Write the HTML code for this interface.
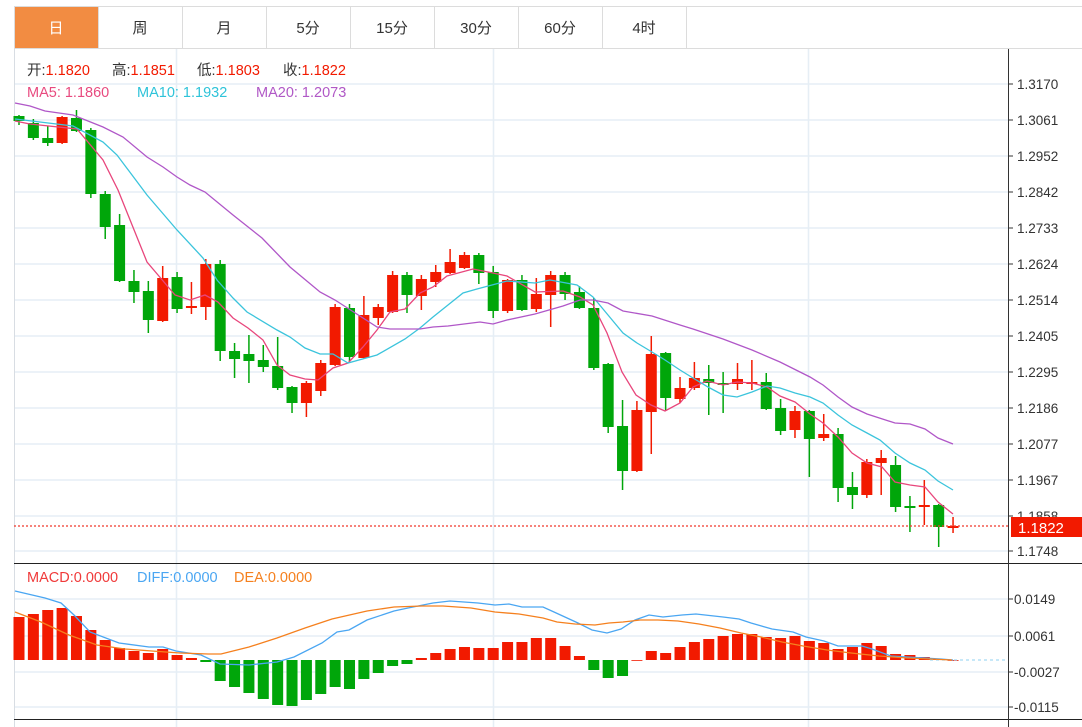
<!DOCTYPE html>
<html><head><meta charset="utf-8">
<style>
html,body{margin:0;padding:0;background:#fff;}
body{width:1082px;height:727px;overflow:hidden;position:relative;font-family:"Liberation Sans","Noto Sans CJK SC",sans-serif;}
svg{position:absolute;left:0;top:0;}
svg text{font-family:"Liberation Sans","Noto Sans CJK SC",sans-serif;}
</style></head>
<body>
<svg id="s" width="1082" height="727" viewBox="0 0 1082 727" xmlns="http://www.w3.org/2000/svg">
<rect x="14.5" y="6.5" width="1080" height="42" fill="#fff" stroke="#dcdcdc"/>
<rect x="15" y="7" width="83" height="41" fill="#f28c42"/>
<g stroke="#dcdcdc"><line x1="98.5" y1="7" x2="98.5" y2="48"/><line x1="182.5" y1="7" x2="182.5" y2="48"/><line x1="266.5" y1="7" x2="266.5" y2="48"/><line x1="350.5" y1="7" x2="350.5" y2="48"/><line x1="434.5" y1="7" x2="434.5" y2="48"/><line x1="518.5" y1="7" x2="518.5" y2="48"/><line x1="602.5" y1="7" x2="602.5" y2="48"/><line x1="686.5" y1="7" x2="686.5" y2="48"/></g>
<g font-size="15" text-anchor="middle" fill="#333">
<text x="56" y="33" fill="#fff">日</text><text x="140" y="33">周</text><text x="224" y="33">月</text><text x="308" y="33">5分</text><text x="392" y="33">15分</text><text x="476" y="33">30分</text><text x="560" y="33">60分</text><text x="644" y="33">4时</text>
</g>
<g id="grid" stroke="#e6eef5" stroke-width="1.5"></g>
<line x1="176.5" y1="49" x2="176.5" y2="727" stroke="#e6eef5" stroke-width="1.5"/>
<line x1="493.5" y1="49" x2="493.5" y2="727" stroke="#e6eef5" stroke-width="1.5"/>
<line x1="808.5" y1="49" x2="808.5" y2="727" stroke="#e6eef5" stroke-width="1.5"/>
<line x1="14.5" y1="49" x2="14.5" y2="727" stroke="#d8dde3"/>
<g id="candles"></g>
<g id="ma" fill="none" stroke-width="1.3"></g>
<g id="macd"></g>
<line x1="14" y1="526" x2="1008" y2="526" stroke="#f0382b" stroke-dasharray="2,2" stroke-width="1.2"/>
<line x1="14" y1="563.5" x2="1082" y2="563.5" stroke="#222"/>
<line x1="14" y1="719.5" x2="1082" y2="719.5" stroke="#222"/>
<line x1="1008.5" y1="49" x2="1008.5" y2="727" stroke="#333"/>
<g id="ax" font-size="13.5" fill="#333"></g>
<rect x="1011" y="517" width="71" height="20" fill="#f21a00"/>
<text x="1018" y="533" font-size="15" fill="#fff">1.1822</text>
<g font-size="14.5">
<text x="27" y="75" fill="#333">开:<tspan fill="#f21a00">1.1820</tspan></text>
<text x="112" y="75" fill="#333">高:<tspan fill="#f21a00">1.1851</tspan></text>
<text x="197" y="75" fill="#333">低:<tspan fill="#f21a00">1.1803</tspan></text>
<text x="283" y="75" fill="#333">收:<tspan fill="#f21a00">1.1822</tspan></text>
<text x="27" y="97" fill="#e84a7f">MA5: 1.1860</text>
<text x="137" y="97" fill="#2ec3d9">MA10: 1.1932</text>
<text x="256" y="97" fill="#b058c6">MA20: 1.2073</text>
<text x="27" y="582" fill="#f03a3a">MACD:0.0000</text>
<text x="137" y="582" fill="#4aa6f2">DIFF:0.0000</text>
<text x="234" y="582" fill="#f5801e">DEA:0.0000</text>
</g>
</svg>
<script>
var NS="http://www.w3.org/2000/svg";
function el(p,t,a){var e=document.createElementNS(NS,t);for(var k in a)e.setAttribute(k,a[k]);document.getElementById(p).appendChild(e);return e;}
var gy=[84,120,156,192,228,264,300,336,372,408,444,480,516,551];
gy.forEach(function(y){el("grid","line",{x1:14,y1:y,x2:1008,y2:y});});
[599,636,672,707].forEach(function(y){el("grid","line",{x1:14,y1:y,x2:1008,y2:y});});
var labs=["1.3170","1.3061","1.2952","1.2842","1.2733","1.2624","1.2514","1.2405","1.2295","1.2186","1.2077","1.1967","1.1858","1.1748"];
gy.forEach(function(y,i){el("ax","line",{x1:1008,y1:y,x2:1013,y2:y,stroke:"#333"});var t=el("ax","text",{x:1017,y:y+5});t.textContent=labs[i];});
var ml=[[599,"0.0149"],[636,"0.0061"],[672,"-0.0027"],[707,"-0.0115"]];
ml.forEach(function(m){el("ax","line",{x1:1008,y1:m[0],x2:1013,y2:m[0],stroke:"#333"});var t=el("ax","text",{x:1014,y:m[0]+5});t.textContent=m[1];});
var C=[[121,116,115,125,'g'],[123,138,119,140,'g'],[138,143,126,146,'g'],[143,117,116,144,'r'],[118,131,110,132,'g'],[130,194,128,198,'g'],[194,227,191,239,'g'],[225,281,214,282,'g'],[281,292,270,303,'g'],[291,320,281,333,'g'],
[321,278,266,322,'r'],[277,309,272,313,'g'],[308,306,282,314,'r'],[307,264,259,320,'r'],[264,351,260,361,'g'],[351,359,343,378,'g'],[354,361,335,383,'g'],[360,367,345,372,'g'],[366,388,337,390,'g'],[387,403,386,413,'g'],
[403,383,381,417,'r'],[391,363,360,396,'r'],[365,307,304,366,'r'],[308,357,304,361,'g'],[358,315,296,359,'r'],[318,307,304,325,'r'],[312,275,271,313,'r'],[275,295,272,313,'g'],[296,279,275,310,'r'],[282,272,265,287,'r'],
[273,262,249,274,'r'],[268,255,252,269,'r'],[255,273,253,284,'g'],[272,311,266,318,'g'],[311,280,279,313,'r'],[280,310,275,311,'g'],[309,294,278,312,'r'],[295,275,271,327,'r'],[275,294,272,300,'g'],[292,308,286,309,'g'],
[308,368,298,370,'g'],[364,427,363,433,'g'],[426,471,400,490,'g'],[471,410,401,472,'r'],[412,354,336,454,'r'],[353,398,352,411,'g'],[399,388,377,403,'r'],[388,378,362,390,'r'],[379,383,365,415,'g'],[383,385,372,413,'g'],
[384,379,363,390,'r'],[384,382,360,390,'r'],[382,409,373,410,'g'],[408,431,399,435,'g'],[430,411,406,438,'r'],[411,439,410,477,'g'],[438,434,414,441,'r'],[434,488,428,502,'g'],[487,495,472,509,'g'],[495,462,459,498,'r'],
[463,458,450,495,'r'],[465,507,456,512,'g'],[506,507,496,532,'g'],[507,505,480,525,'r'],[505,527,504,547,'g'],[528,526,517,533,'r']];
function cx(i){return 19+i*14.37;}
C.forEach(function(c,i){var x=cx(i),col=c[4]=='r'?'#f21a00':'#00a60a';
el("candles","line",{x1:x,y1:c[2],x2:x,y2:c[3],stroke:col,"stroke-width":1.5});
var t=Math.min(c[0],c[1]),h=Math.max(Math.abs(c[0]-c[1]),2);
el("candles","rect",{x:x-5.5,y:t,width:11,height:h,fill:col});});
function pl(pts,col){el("ma","polyline",{points:pts.map(function(p){return p.join(",");}).join(" "),stroke:col});}
pl([[15,121],[30,124],[77,129],[103,160],[118,190],[147,262],[175,295],[190,300],[205,295],[218,302],[233,318],[248,328],[263,340],[277,365],[290,375],[305,379],[318,380],[333,368],[348,363],[363,347],[377,330],[390,312],[405,309],[420,293],[433,287],[447,276],[473,269],[493,273],[507,276],[535,292],[563,291],[580,297],[593,305],[607,333],[622,372],[636,395],[651,405],[665,411],[680,403],[693,387],[707,381],[723,385],[737,382],[752,383],[767,387],[780,396],[795,402],[810,414],[823,423],[838,437],[852,453],[867,463],[882,467],[895,482],[910,485],[925,487],[938,502],[953,514]],"#e8467c");
pl([[15,119],[73,126],[103,142],[117,155],[147,195],[177,230],[203,258],[217,280],[233,298],[247,312],[277,330],[290,337],[305,348],[320,354],[333,354],[348,363],[377,355],[405,339],[420,328],[433,317],[448,305],[463,293],[477,289],[507,281],[535,283],[550,280],[577,285],[593,297],[608,315],[623,333],[637,343],[652,352],[665,360],[680,370],[693,378],[708,387],[723,395],[737,397],[752,392],[767,386],[780,388],[795,393],[810,397],[823,403],[838,415],[852,425],[867,433],[880,440],[895,453],[910,463],[925,470],[938,481],[953,490]],"#3bc4dc");
pl([[15,103],[30,106],[45,111],[73,115],[103,127],[123,137],[147,157],[163,167],[177,177],[190,185],[205,192],[233,215],[262,238],[290,267],[320,292],[335,300],[363,318],[377,327],[390,329],[420,329],[433,327],[448,326],[480,322],[493,324],[507,320],[535,314],[563,306],[580,300],[593,300],[608,303],[623,311],[652,316],[680,325],[693,329],[723,339],[752,350],[780,362],[810,377],[823,385],[838,397],[852,407],[867,414],[895,423],[910,424],[925,429],[938,438],[953,444]],"#b057c8");
var B=[617,614,610,608,616,630,640,648,651,653,649,655,658,662,681,687,693,699,705,706,700,694,687,689,679,673,666,664,658,653,649,647,648,648,642,642,638,638,646,656,670,678,676,660,651,653,647,642,639,636,634,634,637,638,636,641,643,649,647,643,646,654,655,657,659,660];
B.forEach(function(y,i){var x=cx(i);var col=y>660?'#00a60a':'#f21a00';var t=Math.min(y,660),h=Math.max(Math.abs(y-660),0.8);
el("macd","rect",{x:x-5.5,y:t,width:11,height:h,fill:col});});
el("macd","line",{x1:930,y1:660,x2:1008,y2:660,stroke:"#8fd0f0","stroke-dasharray":"3,3"});
function pm(pts,col){el("macd","polyline",{points:pts.map(function(p){return p.join(",");}).join(" "),stroke:col,fill:"none","stroke-width":1.3});}
pm([[15,591],[45,598],[61,603],[74,615],[90,632],[119,643],[149,647],[163,647],[176,651],[201,655],[220,664],[249,665],[277,662],[294,657],[322,643],[337,632],[349,630],[367,620],[394,611],[408,608],[433,603],[450,601],[478,603],[495,605],[509,604],[522,607],[543,607],[554,612],[578,623],[592,630],[607,633],[621,629],[635,620],[649,615],[663,617],[682,615],[696,614],[723,617],[739,619],[751,623],[772,629],[793,632],[806,637],[824,641],[838,646],[862,646],[872,649],[891,656],[907,657],[924,658],[941,659],[953,660]],"#4aa6f2");
pm([[15,612],[41,622],[69,635],[97,645],[125,649],[152,651],[180,653],[208,654],[221,654],[249,647],[277,638],[305,628],[332,619],[367,611],[394,607],[422,606],[443,606],[471,608],[495,612],[519,614],[543,618],[557,622],[575,624],[595,625],[609,623],[623,622],[640,620],[658,620],[678,621],[699,624],[720,628],[741,633],[761,637],[782,642],[803,646],[827,650],[851,653],[879,656],[907,658],[952,660]],"#f5801e");
</script>
</body></html>
